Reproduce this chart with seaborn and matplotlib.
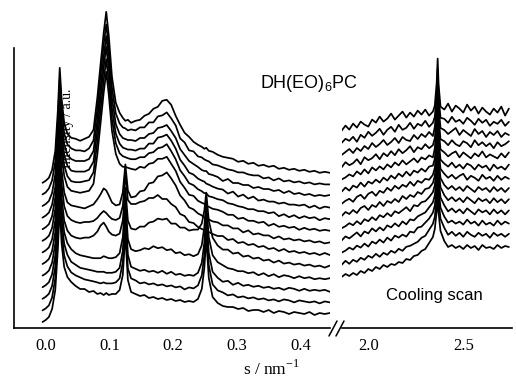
import matplotlib
matplotlib.use("Agg")
import matplotlib.pyplot as plt
import seaborn as sns
import pandas as pd
from matplotlib.lines import Line2D
from matplotlib.ticker import FixedLocator

# ---------------- data (intensities in a.u.) ----------------
s_saxs = [-0.005, 0.0, 0.005, 0.01, 0.015, 0.019, 0.022, 0.025, 0.029, 0.034, 0.04,
          0.047, 0.054, 0.061, 0.068, 0.075, 0.081, 0.086, 0.091, 0.095, 0.099, 0.104, 0.11, 0.116, 0.121,
          0.125, 0.129, 0.134,
          0.141, 0.148, 0.155, 0.162, 0.169, 0.176, 0.183, 0.19, 0.197, 0.204, 0.211, 0.218, 0.225, 0.232, 0.239,
          0.245, 0.249, 0.252, 0.256, 0.262,
          0.27, 0.278, 0.286, 0.294, 0.302, 0.31, 0.318, 0.326, 0.334, 0.342, 0.35, 0.358, 0.366, 0.374,
          0.382, 0.39, 0.398, 0.406, 0.414, 0.422, 0.43, 0.438, 0.446]

# SAXS scans, bottom trace first
saxs_scans = [
    [0, 2, 5, 13, 32, 72, 115, 78, 55, 45, 40,
     36, 33, 33, 30, 31, 28, 29, 27, 29, 27, 28, 28, 32, 47,
     88, 42, 30,
     28, 26, 27, 24, 25, 23, 24, 22, 23, 21, 22, 20, 21, 20, 23,
     33, 54, 84, 44, 25,
     19, 16, 15, 15, 13, 14, 11, 12, 12, 10, 12, 9, 11, 10, 8, 10, 9, 8, 10, 7, 9, 8, 9],
    [0, 2, 5, 13, 32, 72, 115, 78, 55, 44, 38,
     35, 33, 31, 30, 29, 28, 27, 28, 27, 27, 27, 28, 32, 48,
     90, 42, 32,
     30, 27, 28, 26, 27, 25, 26, 24, 25, 23, 24, 21, 23, 22, 25,
     35, 55, 85, 45, 26,
     20, 18, 15, 16, 13, 14, 12, 13, 11, 12, 10, 11, 9, 11, 10, 8, 10, 9, 8, 9, 7, 9, 8],
    [0, 2, 5, 13, 32, 72, 115, 78, 55, 44, 37,
     34, 31, 30, 29, 28, 27, 27, 27, 26, 26, 26, 27, 31, 48,
     92, 44, 32,
     30, 28, 29, 27, 28, 26, 28, 25, 27, 24, 25, 23, 24, 23, 26,
     36, 56, 86, 46, 27,
     21, 17, 18, 14, 16, 13, 14, 12, 13, 11, 12, 10, 11, 9, 11, 10, 8, 10, 8, 9, 8, 9, 7],
    [0, 2, 5, 13, 32, 72, 115, 78, 55, 44, 38,
     34, 32, 31, 30, 29, 29, 29, 31, 30, 29, 29, 30, 34, 50,
     90, 48, 38,
     36, 37, 39, 38, 41, 39, 40, 37, 38, 34, 35, 32, 33, 31, 33,
     42, 60, 85, 50, 32,
     25, 22, 19, 18, 16, 16, 14, 15, 12, 14, 11, 13, 10, 12, 11, 9, 11, 9, 10, 8, 9, 8, 9],
    [0, 2, 5, 13, 32, 72, 115, 78, 55, 45, 40,
     38, 37, 38, 38, 40, 44, 50, 53, 49, 44, 41, 40, 42, 55,
     88, 55, 47,
     46, 49, 49, 53, 54, 57, 56, 57, 52, 52, 48, 48, 45, 46, 46,
     52, 65, 83, 55, 38,
     30, 26, 26, 22, 23, 19, 20, 17, 18, 15, 16, 13, 15, 12, 13, 11, 12, 10, 11, 9, 10, 8, 10],
    [0, 2, 5, 13, 32, 72, 114, 80, 58, 48, 44,
     42, 41, 42, 42, 43, 46, 50, 53, 51, 48, 45, 44, 46, 58,
     90, 64, 60,
     60, 62, 63, 66, 66, 69, 65, 65, 60, 57, 50, 48, 42, 41, 37,
     35, 34, 33, 32, 30,
     28, 28, 24, 25, 21, 22, 19, 20, 17, 18, 15, 16, 13, 15, 12, 13, 11, 12, 10, 11, 9, 11, 9],
    [0, 2, 5, 13, 32, 72, 112, 82, 60, 50, 47,
     46, 45, 44, 46, 48, 53, 58, 64, 62, 57, 50, 47, 48, 60,
     88, 62, 55,
     56, 61, 62, 69, 70, 76, 77, 80, 74, 67, 57, 52, 45, 43, 39,
     37, 35, 34, 33, 31,
     30, 27, 27, 24, 24, 20, 22, 18, 19, 17, 17, 14, 16, 13, 14, 12, 13, 11, 12, 10, 11, 9, 10],
    [0, 2, 5, 13, 32, 72, 114, 86, 65, 54, 50,
     49, 48, 49, 50, 57, 86, 117, 148, 169, 146, 110, 87, 77, 74,
     74, 73, 72,
     71, 74, 73, 77, 78, 82, 82, 84, 77, 70, 59, 53, 46, 45, 40,
     38, 37, 35, 34, 32,
     31, 29, 26, 26, 22, 23, 20, 20, 18, 19, 15, 17, 14, 15, 13, 14, 11, 13, 11, 12, 10, 11, 10],
    [0, 2, 5, 13, 32, 72, 115, 86, 64, 53, 48,
     47, 47, 48, 49, 57, 87, 118, 149, 170, 147, 110, 86, 76, 73,
     72, 71, 70,
     70, 72, 72, 76, 77, 81, 82, 85, 78, 70, 59, 53, 46, 44, 40,
     38, 36, 36, 33, 32,
     30, 29, 26, 25, 23, 22, 20, 20, 18, 18, 16, 17, 13, 15, 12, 14, 11, 13, 11, 12, 9, 11, 10],
    [0, 2, 5, 13, 31, 71, 115, 86, 63, 52, 47,
     46, 46, 46, 48, 56, 87, 119, 150, 171, 148, 109, 84, 74, 70,
     69, 68, 68,
     67, 69, 69, 74, 74, 80, 81, 83, 77, 69, 58, 52, 45, 43, 39,
     37, 36, 34, 33, 31,
     29, 28, 24, 26, 21, 23, 19, 21, 17, 18, 16, 16, 14, 15, 13, 13, 12, 13, 10, 12, 9, 11, 10],
    [0, 2, 5, 13, 32, 72, 114, 85, 62, 51, 47,
     45, 45, 45, 47, 55, 86, 118, 149, 170, 147, 108, 82, 72, 68,
     67, 66, 66,
     65, 68, 68, 72, 73, 78, 79, 81, 75, 68, 57, 51, 45, 42, 39,
     36, 35, 35, 32, 31,
     29, 25, 27, 23, 23, 21, 21, 18, 19, 17, 17, 15, 16, 13, 15, 12, 13, 11, 12, 10, 11, 10, 11],
    [0, 2, 6, 14, 33, 73, 115, 85, 61, 50, 46,
     44, 44, 43, 46, 54, 86, 119, 150, 170, 146, 107, 81, 71, 67,
     66, 64, 65,
     64, 67, 67, 72, 72, 78, 79, 82, 76, 69, 56, 52, 44, 43, 38,
     37, 35, 34, 33, 30,
     29, 27, 25, 24, 22, 22, 20, 19, 19, 16, 17, 14, 16, 13, 14, 12, 13, 11, 12, 10, 11, 10, 10],
    [0, 2, 5, 13, 32, 72, 115, 84, 60, 49, 45,
     44, 42, 44, 46, 53, 85, 118, 150, 171, 147, 106, 80, 70, 65,
     62, 63, 60,
     62, 63, 67, 69, 74, 76, 82, 83, 78, 67, 58, 50, 46, 41, 38,
     36, 34, 35, 32, 31,
     28, 26, 25, 24, 21, 22, 19, 20, 17, 18, 16, 17, 14, 15, 13, 14, 12, 13, 11, 12, 10, 11, 10],
]

s_waxs = [1.86, 1.88, 1.90, 1.92, 1.94, 1.96, 1.98, 2.00, 2.02, 2.04, 2.06, 2.08, 2.10, 2.12, 2.14,
          2.16, 2.18, 2.20, 2.22, 2.24, 2.26, 2.28, 2.30, 2.32, 2.34,
          2.35, 2.36, 2.365, 2.37, 2.38,
          2.40, 2.42, 2.44, 2.46, 2.48, 2.50, 2.52, 2.54, 2.56, 2.58, 2.60, 2.62, 2.64, 2.66,
          2.68, 2.70, 2.72, 2.74]

# WAXS scans, bottom trace first
waxs_scans = [
    [0, 3, 1, 4, 2, 6, 4, 8, 6, 10, 8, 12, 10, 13, 12, 15, 14, 18, 17, 21, 22, 26, 28, 34, 40,
     48, 66, 78, 64, 46,
     36, 30, 32, 29, 31, 28, 32, 29, 31, 27, 32, 29, 30, 28, 32, 29, 31, 30],
    [0, 4, 1, 5, 3, 7, 5, 9, 7, 11, 8, 12, 10, 14, 12, 16, 14, 18, 19, 21, 23, 27, 29, 35, 41,
     48, 67, 79, 65, 46,
     37, 30, 33, 29, 32, 28, 33, 30, 28, 32, 29, 31, 27, 32, 29, 31, 28, 31],
    [0, 2, 5, 3, 7, 5, 9, 6, 11, 9, 13, 10, 15, 12, 17, 15, 18, 16, 21, 20, 25, 26, 30, 34, 40,
     47, 66, 79, 64, 45,
     36, 30, 32, 29, 31, 28, 33, 29, 31, 27, 32, 28, 30, 27, 32, 28, 31, 29],
    [0, 4, 2, 5, 8, 4, 9, 7, 12, 9, 13, 10, 15, 13, 17, 14, 19, 16, 21, 20, 24, 26, 28, 33, 38,
     45, 64, 78, 62, 43,
     35, 29, 32, 28, 31, 27, 32, 29, 26, 31, 28, 30, 26, 31, 27, 30, 26, 30],
    [0, 2, 5, 3, 7, 4, 9, 7, 11, 8, 13, 11, 15, 12, 17, 15, 18, 21, 17, 23, 22, 26, 27, 31, 36,
     43, 62, 78, 60, 41,
     33, 28, 31, 27, 30, 26, 31, 28, 25, 30, 27, 29, 25, 30, 26, 29, 25, 29],
    [0, 4, 2, 6, 3, 8, 10, 6, 11, 9, 14, 10, 15, 13, 17, 14, 20, 17, 21, 19, 24, 22, 27, 28, 33,
     40, 60, 78, 58, 38,
     31, 27, 30, 26, 29, 25, 30, 27, 24, 29, 26, 28, 24, 29, 25, 28, 24, 28],
    [0, 3, 5, 2, 7, 9, 5, 10, 12, 8, 13, 11, 16, 13, 18, 15, 19, 17, 22, 18, 23, 21, 25, 24, 29,
     36, 57, 77, 55, 35,
     30, 26, 29, 25, 28, 30, 24, 28, 26, 23, 29, 25, 27, 23, 28, 24, 27, 25],
    [0, 4, 1, 6, 4, 9, 5, 10, 8, 12, 9, 14, 11, 16, 13, 18, 15, 20, 16, 21, 19, 23, 20, 25, 26,
     33, 55, 76, 53, 32,
     28, 25, 29, 24, 27, 23, 28, 26, 22, 27, 24, 26, 21, 27, 23, 25, 22, 27],
    [0, 2, 5, 3, 8, 5, 10, 6, 12, 9, 13, 10, 15, 12, 17, 14, 19, 15, 18, 21, 17, 22, 20, 24, 22,
     31, 54, 76, 52, 30,
     27, 23, 26, 28, 22, 27, 24, 21, 26, 23, 28, 22, 25, 23, 21, 26, 22, 27],
    [0, 5, 2, 4, 8, 3, 10, 7, 9, 13, 8, 14, 11, 16, 12, 18, 14, 17, 21, 15, 20, 18, 23, 19, 22,
     29, 52, 75, 50, 28,
     26, 22, 27, 23, 21, 26, 24, 20, 27, 22, 25, 21, 24, 19, 25, 21, 23, 26],
    [0, 3, 6, 2, 7, 4, 9, 6, 12, 8, 11, 15, 10, 13, 17, 12, 18, 15, 14, 20, 16, 21, 18, 23, 19,
     28, 51, 75, 49, 27,
     25, 21, 24, 27, 20, 25, 22, 19, 26, 21, 24, 18, 23, 20, 24, 18, 22, 20],
    [0, 4, 2, 6, 1, 8, 5, 11, 7, 10, 14, 8, 13, 16, 11, 18, 13, 15, 20, 14, 19, 17, 22, 16, 20,
     26, 50, 74, 47, 25,
     24, 20, 26, 21, 23, 19, 25, 22, 18, 24, 20, 23, 17, 21, 19, 23, 17, 21],
    [0, 5, 1, 7, 3, 9, 6, 4, 11, 8, 14, 9, 12, 17, 11, 15, 19, 13, 18, 14, 20, 16, 21, 15, 19,
     25, 48, 72, 46, 24,
     21, 27, 19, 25, 22, 18, 26, 20, 24, 17, 23, 19, 16, 22, 18, 24, 15, 22],
]

x_ticks_saxs = [0.0, 0.1, 0.2, 0.3, 0.4]
x_ticks_waxs = [2.0, 2.5]
sample_label = "DH(EO)$_{\\mathsf{6}}$PC"
scan_label = "Cooling scan"
x_label = "s / nm$^{\\mathrm{-1}}$"
y_label = "Intensity / a.u."

for p in saxs_scans:
    assert len(p) == len(s_saxs), len(p)
for p in waxs_scans:
    assert len(p) == len(s_waxs), len(p)

# ---------------- style ----------------
sns.set_style("white")
plt.rcParams["font.family"] = ["Liberation Serif", "DejaVu Serif"]
plt.rcParams["mathtext.fontset"] = "custom"
plt.rcParams["mathtext.rm"] = "Liberation Serif"
plt.rcParams["mathtext.sf"] = "Liberation Sans"
plt.rcParams["text.color"] = "black"
plt.rcParams["axes.labelcolor"] = "black"
plt.rcParams["xtick.color"] = "black"
plt.rcParams["ytick.color"] = "black"

W, H = 516, 381
fig = plt.figure(figsize=(W / 100, H / 100), dpi=100)

def fx(px):
    return px / W

def fy(py):
    return 1 - py / H

ax1 = fig.add_axes([fx(14), fy(328), fx(330) - fx(14), fy(5) - fy(328)])
ax2 = fig.add_axes([fx(342), fy(328), fx(512) - fx(342), fy(5) - fy(328)])

step_saxs, base_saxs = 11.6, 6.0
step_waxs, base_waxs = 12.2, 51.0

rows = []
for i, prof in enumerate(saxs_scans):
    for s, v in zip(s_saxs, prof):
        rows.append((i, s, v + base_saxs + step_saxs * i))
df_saxs = pd.DataFrame(rows, columns=["scan", "s", "I"])

rows = []
for i, prof in enumerate(waxs_scans):
    for s, v in zip(s_waxs, prof):
        rows.append((i, s, v + base_waxs + step_waxs * i))
df_waxs = pd.DataFrame(rows, columns=["scan", "s", "I"])

line_kw = dict(x="s", y="I", units="scan", estimator=None, sort=False,
               color="black", linewidth=1.25, legend=False)
sns.lineplot(data=df_saxs, ax=ax1, **line_kw)
sns.lineplot(data=df_waxs, ax=ax2, **line_kw)

for ax in (ax1, ax2):
    ax.set_ylim(0, 323)
    ax.set_xlabel("")
    ax.set_ylabel("")
    ax.set_yticks([])
    ax.patch.set_alpha(0)
    for sp in ("top", "right"):
        ax.spines[sp].set_visible(False)
    ax.spines["bottom"].set_linewidth(1.2)
    ax.spines["bottom"].set_color("black")
    ax.tick_params(axis="x", which="major", direction="out", length=3.5, width=1.0,
                   labelsize=12, pad=4, colors="black")
    ax.tick_params(axis="x", which="minor", direction="in", length=2.5, width=1.0,
                   colors="black")

ax1.set_xlim(-0.0498, 0.4463)
ax1.set_xticks(x_ticks_saxs)
ax1.set_xticklabels([f"{v:.1f}" for v in x_ticks_saxs], fontfamily="Liberation Serif")
ax1.xaxis.set_minor_locator(FixedLocator([0.05, 0.15, 0.25, 0.35]))
ax1.spines["left"].set_linewidth(1.2)
ax1.spines["left"].set_color("black")
ax1.spines["left"].set_bounds(0, 280)

ax2.set_xlim(1.8616, 2.7563)
ax2.set_xticks(x_ticks_waxs)
ax2.set_xticklabels([f"{v:.1f}" for v in x_ticks_waxs], fontfamily="Liberation Serif")
ax2.xaxis.set_minor_locator(FixedLocator([2.25, 2.75]))
ax2.spines["left"].set_visible(False)

# axis break marks
for x0 in (329, 336):
    fig.add_artist(Line2D([fx(x0), fx(x0 + 8)], [fy(336), fy(321)],
                          color="black", linewidth=1.1))

# labels
fig.text(fx(271), fy(369), x_label, ha="center", va="center", fontsize=12.5,
         fontfamily="Liberation Serif", color="black")
ax1.text(fx(68), fy(128), y_label, rotation=90, ha="center", va="center",
         fontsize=10, fontfamily="Liberation Serif", color="black",
         transform=fig.transFigure, zorder=0.5)
fig.text(fx(260), fy(88), sample_label, ha="left", va="baseline", fontsize=13,
         fontfamily="Liberation Sans", color="black")
fig.text(fx(386), fy(300), scan_label, ha="left", va="baseline", fontsize=12,
         fontfamily="Liberation Sans", color="black")

fig.savefig("out.png", dpi=100)
